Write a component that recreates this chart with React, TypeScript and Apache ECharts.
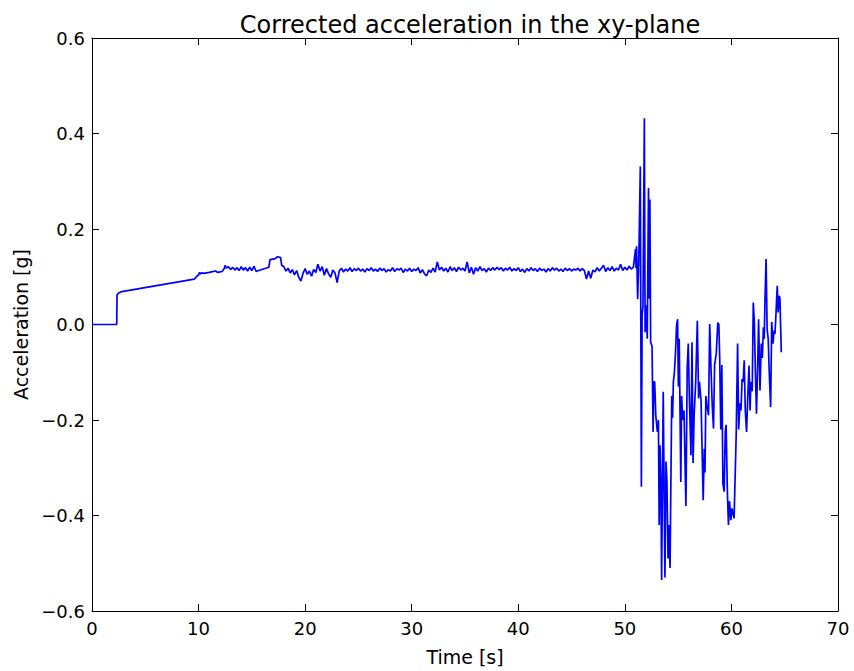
import React, { useEffect, useRef } from "react";
import * as echarts from "echarts";

const chartTitle = "Corrected acceleration in the xy-plane";
const xAxisName = "Time [s]";
const yAxisName = "Acceleration [g]";
const xTicks = [0, 10, 20, 30, 40, 50, 60, 70];
const yTicks = [-0.6, -0.4, -0.2, 0.0, 0.2, 0.4, 0.6];

// time [s]
const time: number[] = [
  0, 2.32, 2.35, 2.5, 2.8, 9.6, 9.8, 10.0, 10.1, 10.2, 10.3, 10.5, 11.0, 11.6, 11.8, 12.2,
  12.4, 12.5, 12.6, 12.8, 13.0, 13.2, 13.4, 13.6, 13.8, 14.0, 14.2, 14.4, 14.6, 14.8, 15.0,
  15.2, 15.4, 15.5, 16.6, 16.7, 17.2, 17.4, 17.7, 17.8,
  18.0, 18.2, 18.4, 18.6, 18.8, 19.0, 19.2, 19.4, 19.6, 19.8, 20.0, 20.2, 20.4, 20.6, 20.8,
  21.0, 21.2, 21.4, 21.6, 21.8, 22.0, 22.2, 22.4, 22.6, 22.8, 23.0, 23.2, 23.4, 23.6, 23.8,
  24.0, 24.2, 24.4, 24.6, 24.8, 25.0, 25.2, 25.4, 25.6, 25.8, 26.0, 26.2, 26.4, 26.6, 26.8,
  27.0, 27.2, 27.4, 27.6, 27.8, 28.0, 28.2, 28.4, 28.6, 28.8, 29.0, 29.2, 29.4, 29.6, 29.8,
  30.0, 30.2, 30.4, 30.6, 30.8, 31.0, 31.2, 31.4, 31.6, 31.8, 32.0, 32.2, 32.4, 32.6, 32.8,
  33.0, 33.2, 33.4, 33.6, 33.8, 34.0, 34.2, 34.4, 34.6, 34.8, 35.0, 35.2, 35.4, 35.6, 35.8,
  36.0, 36.2, 36.4, 36.6, 36.8, 37.0, 37.2, 37.4, 37.6, 37.8, 38.0, 38.2, 38.4, 38.6, 38.8,
  39.0, 39.2, 39.4, 39.6, 39.8, 40.0, 40.2, 40.4, 40.6, 40.8, 41.0, 41.2, 41.4, 41.6, 41.8,
  42.0, 42.2, 42.4, 42.6, 42.8, 43.0, 43.2, 43.4, 43.6, 43.8, 44.0, 44.2, 44.4, 44.6, 44.8,
  45.0, 45.2, 45.4, 45.6, 45.8, 46.0, 46.2, 46.4, 46.6, 46.8, 47.0, 47.2, 47.4, 47.6, 47.8,
  48.0, 48.2, 48.4, 48.6, 48.8, 49.0, 49.2, 49.4, 49.6, 49.8, 50.0, 50.2, 50.4, 50.6, 50.8,
  51.0, 51.05, 51.1, 51.2, 51.3, 51.45, 51.55, 51.62, 51.7, 51.83, 51.9, 52.0, 52.1, 52.22,
  52.28, 52.35, 52.42, 52.55, 52.65, 52.72, 52.8, 52.9, 53.05, 53.15, 53.22, 53.3, 53.38,
  53.45, 53.6, 53.7, 53.76, 53.86, 53.95, 54.05, 54.12, 54.24, 54.4, 54.48, 54.55, 54.65,
  54.75, 54.85, 54.95, 55.02, 55.1, 55.25, 55.33, 55.42, 55.55, 55.73, 55.85, 55.95, 56.05,
  56.2, 56.3, 56.4, 56.5, 56.65, 56.8, 56.92, 57.0, 57.15, 57.35, 57.45, 57.52, 57.6, 57.7,
  57.85, 57.96, 58.08, 58.2, 58.32, 58.42, 58.58, 58.72, 58.82, 58.9, 59.0, 59.1, 59.2,
  59.32, 59.42, 59.5, 59.62, 59.72, 59.82, 59.95, 60.05, 60.25, 60.45, 60.58, 60.68, 60.8,
  60.9, 61.0, 61.1, 61.2, 61.3, 61.42, 61.52, 61.65, 61.75, 61.82, 61.95, 62.05, 62.15,
  62.25, 62.35, 62.48, 62.55, 62.68, 62.8, 62.9, 63.0, 63.08, 63.15, 63.25, 63.35, 63.45,
  63.55, 63.68, 63.78, 63.9, 64.0, 64.08, 64.15, 64.22, 64.3, 64.38, 64.48, 64.55, 64.68,
];

// corrected acceleration [g]
const accel: number[] = [
  0, 0, 0.062, 0.066, 0.069, 0.095, 0.1, 0.104, 0.109, 0.106, 0.108, 0.107, 0.109, 0.112, 0.109, 0.111,
  0.117, 0.124, 0.118, 0.121, 0.115, 0.12, 0.114, 0.119, 0.113, 0.121, 0.114, 0.119, 0.112, 0.12, 0.113,
  0.122, 0.111, 0.112, 0.12, 0.136, 0.138, 0.142, 0.14, 0.124,
  0.121, 0.112, 0.118, 0.108, 0.115, 0.104, 0.113, 0.099, 0.091, 0.107, 0.117, 0.105, 0.112, 0.101, 0.115,
  0.109, 0.126, 0.112, 0.121, 0.103, 0.117, 0.106, 0.099, 0.114, 0.108, 0.088, 0.112, 0.118, 0.11, 0.116,
  0.112, 0.119, 0.111, 0.117, 0.113, 0.118, 0.112, 0.116, 0.11, 0.117, 0.113, 0.119, 0.112, 0.116, 0.111,
  0.118, 0.113, 0.117, 0.11, 0.115, 0.112, 0.119, 0.111, 0.117, 0.114, 0.118, 0.109, 0.116, 0.112, 0.118,
  0.111, 0.116, 0.113, 0.119, 0.108, 0.115, 0.106, 0.102, 0.114, 0.109, 0.118, 0.11, 0.131, 0.114, 0.12,
  0.112, 0.118, 0.11, 0.121, 0.113, 0.119, 0.111, 0.12, 0.114, 0.118, 0.112, 0.131, 0.108, 0.12, 0.105,
  0.119, 0.112, 0.121, 0.113, 0.117, 0.11, 0.118, 0.113, 0.119, 0.114, 0.12, 0.115, 0.119, 0.112, 0.118,
  0.114, 0.12, 0.112, 0.117, 0.113, 0.119, 0.111, 0.116, 0.109, 0.117, 0.112, 0.119, 0.113, 0.117, 0.111,
  0.118, 0.113, 0.116, 0.11, 0.117, 0.112, 0.119, 0.114, 0.118, 0.112, 0.116, 0.111, 0.118, 0.113, 0.117,
  0.112, 0.116, 0.114, 0.118, 0.112, 0.117, 0.113, 0.095, 0.112, 0.097, 0.114, 0.11, 0.119, 0.112, 0.118,
  0.124, 0.111, 0.119, 0.113, 0.121, 0.112, 0.118, 0.114, 0.126, 0.113, 0.12, 0.114, 0.122, 0.116, 0.12,
  0.158, 0.118, 0.164, 0.053, 0.125, 0.331, -0.34, 0.02, 0.039, 0.432, -0.016, 0.04, -0.03, 0.286,
  0.054, 0.262, -0.037, -0.045, -0.225, -0.12, -0.12, -0.19, -0.225, -0.2, -0.42, -0.253, -0.33,
  -0.535, -0.141, -0.38, -0.53, -0.287, -0.33, -0.49, -0.42, -0.51, -0.149, -0.195, -0.12, -0.1,
  -0.06, -0.002, 0.011, -0.13, -0.03, -0.33, -0.15, -0.2, -0.18, -0.38, -0.093, -0.04, -0.15,
  -0.274, -0.037, -0.29, -0.19, -0.12, 0.008, -0.155, -0.12, -0.16, -0.368, -0.26, -0.31, -0.15, -0.17,
  -0.19, 0.001, -0.09, -0.17, -0.218, -0.085, -0.06, 0.004, 0.0, -0.07, -0.22, -0.085, -0.333,
  -0.35, -0.225, -0.21, -0.35, -0.42, -0.37, -0.41, -0.385, -0.406, -0.228, -0.04, -0.22, -0.165,
  -0.18, -0.114, -0.12, -0.075, -0.18, -0.225, -0.16, -0.086, -0.18, -0.12, -0.14, 0.046, 0.005,
  -0.1, -0.187, -0.07, 0.011, -0.138, -0.04, -0.07, -0.006, -0.03, 0.053, 0.137, -0.01, -0.03,
  -0.1, -0.173, 0.005, -0.04, -0.013, -0.02, 0.008, 0.043, 0.081, 0.025, 0.06, 0.055, -0.058,
];

const FONT = "DejaVu Sans";

export default function App() {
  const ref = useRef<HTMLDivElement>(null);
  useEffect(() => {
    if (!ref.current) return;
    const chart = echarts.init(ref.current, undefined, { renderer: "svg" });
    const data = time.map((t, i) => [t, accel[i]]);
    const fmtY = (v: number) => (v < 0 ? "\u2212" : "") + Math.abs(v).toFixed(1);
    const axisLine = { show: true, onZero: false, lineStyle: { color: "#000", width: 1 } };
    const tick = { show: true, inside: true, length: 7, lineStyle: { color: "#000", width: 1 } };
    chart.setOption({
      animation: false,
      backgroundColor: "#fff",
      title: {
        text: chartTitle,
        left: 465,
        top: 8,
        textAlign: "center",
        textStyle: { fontFamily: FONT, fontSize: 24, fontWeight: "normal", color: "#000" },
      },
      grid: { left: 92, right: 16, top: 38, bottom: 58, containLabel: false },
      xAxis: [
        {
          type: "value",
          min: xTicks[0],
          max: xTicks[xTicks.length - 1],
          interval: 10,
          position: "bottom",
          name: xAxisName,
          nameLocation: "middle",
          nameGap: 36,
          nameTextStyle: { fontFamily: FONT, fontSize: 19, color: "#000" },
          axisLine,
          axisTick: tick,
          splitLine: { show: false },
          axisLabel: { fontFamily: FONT, fontSize: 18, color: "#000", margin: 8, formatter: (v: number) => String(v) },
        },
        {
          type: "value",
          min: xTicks[0],
          max: xTicks[xTicks.length - 1],
          interval: 10,
          position: "top",
          axisLine,
          axisTick: tick,
          splitLine: { show: false },
          axisLabel: { show: false },
        },
      ],
      yAxis: [
        {
          type: "value",
          min: yTicks[0],
          max: yTicks[yTicks.length - 1],
          interval: 0.2,
          position: "left",
          name: yAxisName,
          nameLocation: "middle",
          nameGap: 62,
          nameRotate: 90,
          nameTextStyle: { fontFamily: FONT, fontSize: 19, color: "#000" },
          axisLine,
          axisTick: tick,
          splitLine: { show: false },
          axisLabel: { fontFamily: FONT, fontSize: 18, color: "#000", margin: 7, formatter: fmtY },
        },
        {
          type: "value",
          min: yTicks[0],
          max: yTicks[yTicks.length - 1],
          interval: 0.2,
          position: "right",
          axisLine,
          axisTick: tick,
          splitLine: { show: false },
          axisLabel: { show: false },
        },
      ],
      series: [
        {
          type: "line",
          data,
          xAxisIndex: 0,
          yAxisIndex: 0,
          showSymbol: false,
          symbol: "none",
          lineStyle: { color: "#0000ff", width: 1.7 },
          silent: true,
        },
      ],
    });
    return () => chart.dispose();
  }, []);
  return <div ref={ref} style={{ position: "fixed", left: 0, top: 0, width: 854, height: 671 }} />;
}
